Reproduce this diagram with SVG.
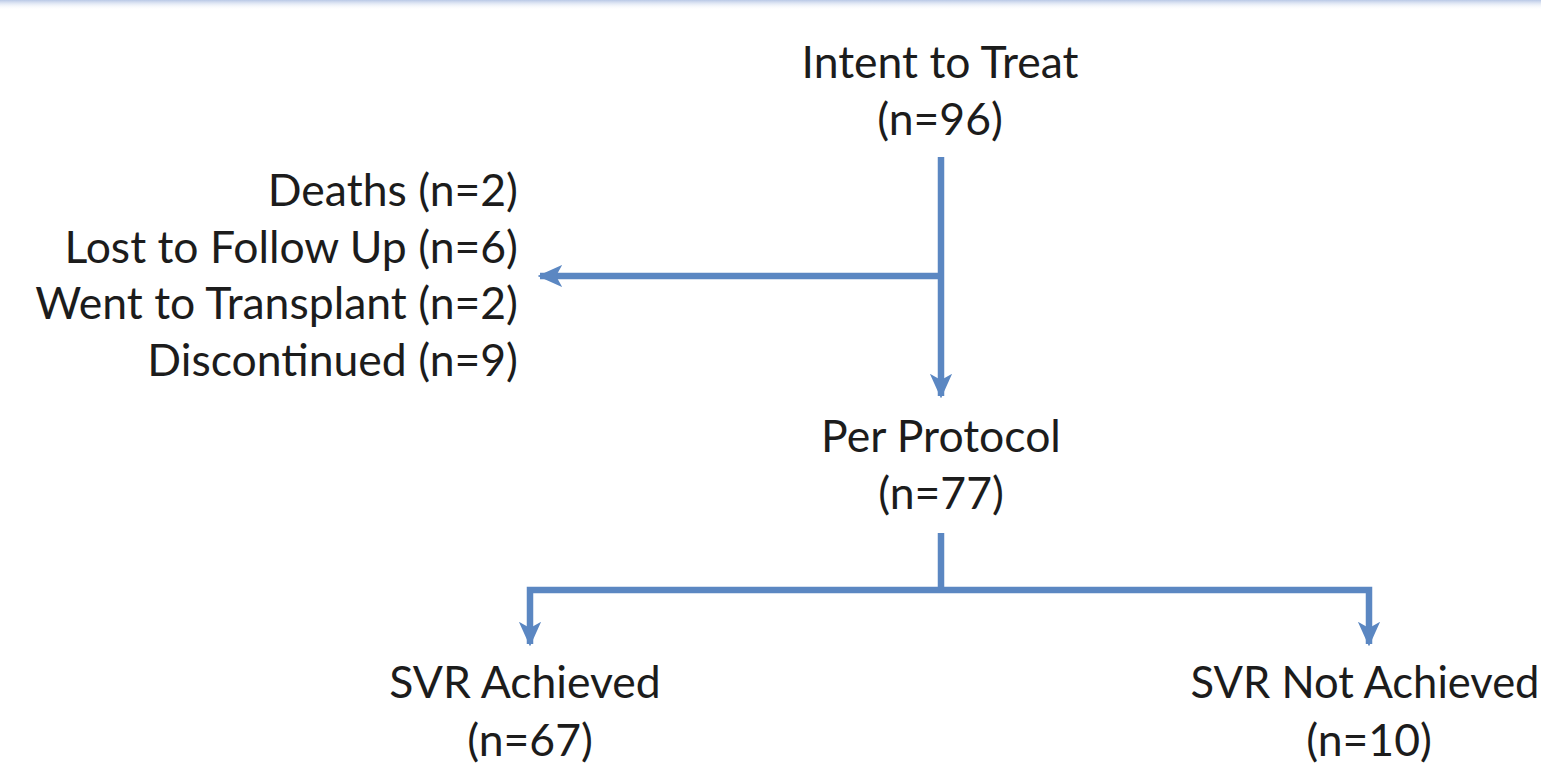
<svg xmlns="http://www.w3.org/2000/svg" width="1541" height="764" viewBox="0 0 1541 764">
<defs>
<linearGradient id="topband" x1="0" y1="0" x2="0" y2="1">
<stop offset="0" stop-color="#b9c8e6"/>
<stop offset="1" stop-color="#ffffff" stop-opacity="0"/>
</linearGradient>
<marker id="ah" viewBox="0 0 10 10" refX="9" refY="5" markerWidth="3.8" markerHeight="3.8" markerUnits="strokeWidth" orient="auto">
<path d="M0,0.5 L10,5 L0,9.5 L2.5,5 Z" fill="#5b87c2"/>
</marker>
<style>
.t{font-family:Lato,"Liberation Sans",sans-serif;font-size:44.5px;fill:#1c1c1c}
.c{text-anchor:middle}
.r{text-anchor:end}
.ln{fill:none;stroke:#5b87c2;stroke-width:6.5;stroke-linecap:butt;stroke-linejoin:miter}
</style>
</defs>
<rect width="1541" height="764" fill="#ffffff"/>
<rect width="1541" height="10" fill="url(#topband)"/>
<g id="connectors">
<path class="ln" d="M941,157 L941,396" marker-end="url(#ah)"/>
<path class="ln" d="M941,276 L540,276" marker-end="url(#ah)"/>
<path class="ln" d="M941,533 L941,590"/>
<path class="ln" d="M941,590 L530,590 L530,644" marker-end="url(#ah)"/>
<path class="ln" d="M941,590 L1369,590 L1369,644" marker-end="url(#ah)"/>
</g>
<g id="itt">
<text class="t c" x="940" y="78">Intent to Treat</text>
<text class="t c" x="940" y="135">(n=96)</text>
</g>
<g id="excluded">
<text class="t r" x="518" y="206">Deaths (n=2)</text>
<text class="t r" x="518" y="263">Lost to Follow Up (n=6)</text>
<text class="t r" x="518" y="319">Went to Transplant (n=2)</text>
<text class="t r" x="518" y="376">Discontinued (n=9)</text>
</g>
<g id="pp">
<text class="t c" x="941" y="452">Per Protocol</text>
<text class="t c" x="941" y="509">(n=77)</text>
</g>
<g id="svr">
<text class="t c" x="525" y="698">SVR Achieved</text>
<text class="t c" x="530" y="756">(n=67)</text>
</g>
<g id="nosvr">
<text class="t c" x="1365" y="698" style="font-size:43.5px">SVR Not Achieved</text>
<text class="t c" x="1369" y="756">(n=10)</text>
</g>
</svg>
